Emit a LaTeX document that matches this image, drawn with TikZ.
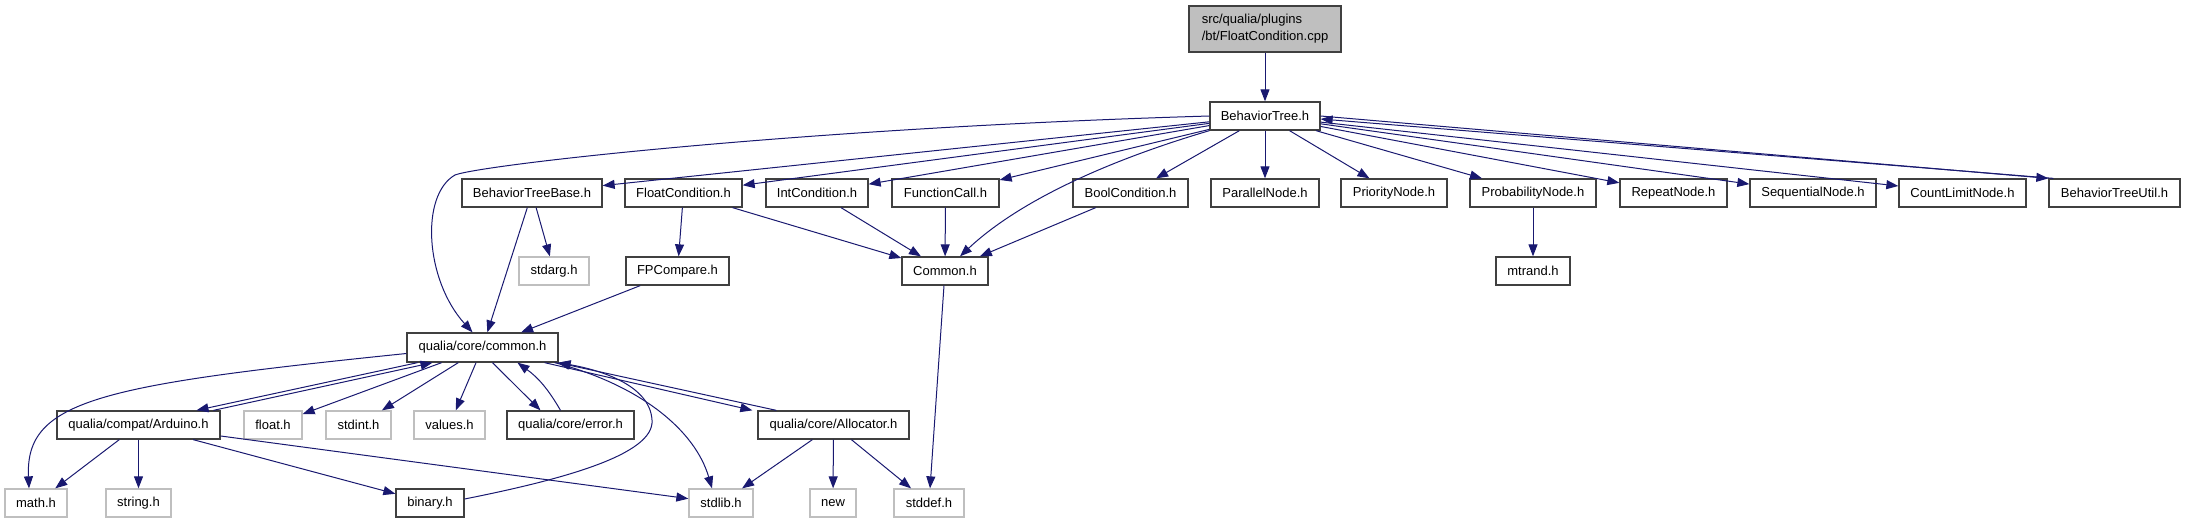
\documentclass[tikz,border=0pt]{standalone}
\usepackage{fontspec}
\setmainfont{Liberation Sans}
\usepackage{tikz}
\usetikzlibrary{arrows.meta}
\definecolor{edgeblue}{HTML}{191970}
\definecolor{boxline}{HTML}{404040}
\definecolor{sysgray}{HTML}{BFBFBF}

\begin{document}
\begin{tikzpicture}[
  x=1pt, y=-1pt,
  box/.style={draw=boxline, line width=1.3pt, minimum height=28pt, inner sep=0pt, font=\fontsize{13}{16}\selectfont},
  sysbox/.style={box, draw=sysgray},
  rootbox/.style={box, fill=sysgray, minimum height=46pt, align=left, font=\fontsize{13}{17}\selectfont},
  arr/.style={-{Triangle[length=12pt,width=9pt]}, draw=edgeblue, line width=1pt}]
\useasboundingbox (0,0) rectangle (2185,523);
\node[rootbox, minimum width=152pt] (root) at (1265,29) {src/qualia/plugins\\/bt/FloatCondition.cpp};
\node[box, minimum width=110pt] (bt) at (1265,116) {BehaviorTree.h};
% headers pulled in by BehaviorTree.h
\node[box, minimum width=140pt] (btbase) at (532,193) {BehaviorTreeBase.h};
\node[box, minimum width=117pt] (floatcond) at (683.5,193) {FloatCondition.h};
\node[box, minimum width=102pt] (intcond) at (817,193) {IntCondition.h};
\node[box, minimum width=107pt] (funccall) at (945.5,193) {FunctionCall.h};
\node[box, minimum width=115pt] (boolcond) at (1130.5,193) {BoolCondition.h};
\node[box, minimum width=108pt] (parallel) at (1265,193) {ParallelNode.h};
\node[box, minimum width=106pt] (priority) at (1394,193) {PriorityNode.h};
\node[box, minimum width=126pt] (probability) at (1533,193) {ProbabilityNode.h};
\node[box, minimum width=107pt] (repeat) at (1673.5,193) {RepeatNode.h};
\node[box, minimum width=126pt] (sequential) at (1813,193) {SequentialNode.h};
\node[box, minimum width=127pt] (countlimit) at (1962.5,193) {CountLimitNode.h};
\node[box, minimum width=131pt] (btutil) at (2114.5,193) {BehaviorTreeUtil.h};
\node[sysbox, minimum width=70pt] (stdarg) at (554,271) {stdarg.h};
\node[box, minimum width=103pt] (fpcompare) at (677.5,271) {FPCompare.h};
\node[box, minimum width=86pt] (common) at (945,271) {Common.h};
\node[box, minimum width=74pt] (mtrand) at (1533,271) {mtrand.h};
% qualia core
\node[box, minimum width=151pt, minimum height=29pt] (corecommon) at (482.5,347.5) {qualia/core/common.h};
\node[box, minimum width=163pt] (arduino) at (138.5,425) {qualia/compat/Arduino.h};
\node[sysbox, minimum width=58pt] (floath) at (273,425) {float.h};
\node[sysbox, minimum width=65pt] (stdint) at (358.5,425) {stdint.h};
\node[sysbox, minimum width=71pt] (values) at (449.5,425) {values.h};
\node[box, minimum width=127pt] (error) at (570.5,425) {qualia/core/error.h};
\node[box, minimum width=151pt] (allocator) at (833.5,425) {qualia/core/Allocator.h};
\node[sysbox, minimum width=62pt] (math) at (36,503) {math.h};
\node[sysbox, minimum width=65pt] (string) at (138.5,503) {string.h};
\node[box, minimum width=68pt] (binary) at (430,503) {binary.h};
\node[sysbox, minimum width=64pt] (stdlib) at (721,503) {stdlib.h};
\node[sysbox, minimum width=46pt] (new) at (833,503) {new};
\node[sysbox, minimum width=70pt] (stddef) at (929,503) {stddef.h};

\foreach \x/\y in {root/bt, bt/btbase, bt/floatcond, bt/intcond, bt/funccall, bt/boolcond, bt/parallel,
  bt/priority, bt/probability, bt/repeat, bt/sequential, bt/countlimit, btbase/stdarg, btbase/corecommon,
  floatcond/fpcompare, floatcond/common, intcond/common, funccall/common, boolcond/common,
  probability/mtrand, fpcompare/corecommon, common/stddef, corecommon/floath, corecommon/stdint,
  corecommon/values, arduino/math, arduino/string, arduino/binary, arduino/stdlib,
  allocator/stdlib, allocator/new, allocator/stddef}
  \draw[arr] (\x) -- (\y);

\draw[arr] (bt.east) -- (btutil.north west);
\draw[arr] ([xshift=5pt]btutil.north west) -- ([yshift=-3pt]bt.east);
\draw[arr] (bt.west) .. controls (800,128) and (480,165) .. (455,175)
  .. controls (420,195) and (425,280) .. ([xshift=-10pt]corecommon.north);
\draw[arr] (bt.south west) .. controls (1110,160) and (1020,200) .. ([xshift=15pt]common.north);
% cycles around qualia/core/common.h
\draw[arr] ([yshift=-6pt]corecommon.west) .. controls (100,385) and (25,400) .. ([xshift=-7pt]math.north);
\draw[arr] ([xshift=-65pt]corecommon.south) -- ([xshift=58pt]arduino.north);
\draw[arr] ([xshift=75pt]arduino.north) -- ([xshift=-50pt]corecommon.south);
\draw[arr] ([xshift=10pt]corecommon.south) -- ([xshift=-30pt]error.north);
\draw[arr] ([xshift=-10pt]error.north) to[bend right=12] ([xshift=35pt]corecommon.south);
\draw[arr] ([xshift=-4pt]corecommon.south east) .. controls (640,385) and (695,430) .. ([xshift=-9pt]stdlib.north);
\draw[arr] ([xshift=-14pt]corecommon.south east) -- ([xshift=-5pt]allocator.north west);
\draw[arr] ([xshift=19pt]allocator.north west) -- ([xshift=-1pt]corecommon.south east);
\draw[arr] ([yshift=4pt]binary.east) .. controls (560,480) and (655,455) .. (652,420)
  .. controls (650,385) and (600,370) .. (corecommon.south east);
\end{tikzpicture}
\end{document}
